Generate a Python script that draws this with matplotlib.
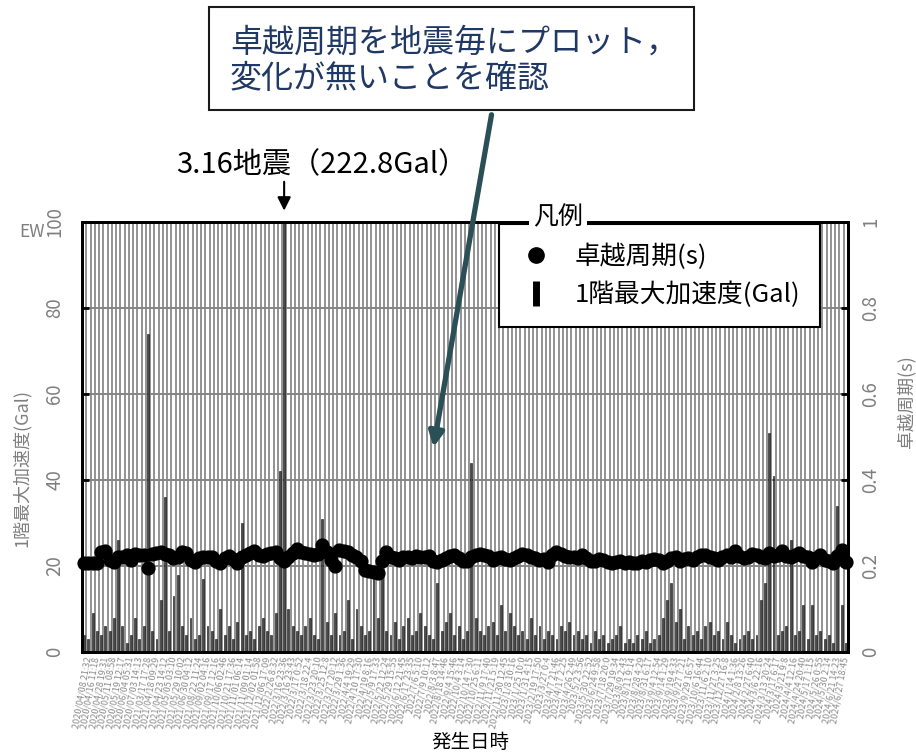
import numpy as np
import matplotlib
matplotlib.use("Agg")
import matplotlib.pyplot as plt
from matplotlib.lines import Line2D
from matplotlib.patches import Rectangle, FancyArrowPatch

plt.rcParams['font.family'] = ['Noto Sans CJK JP', 'DejaVu Sans']

# labelled events (every second category carries a date label)
tick_labels = [
    "2020/04/08 21:32", "2020/04/16 11:18", "2020/04/28 19:31", "2020/05/11 08:58",
    "2020/05/19 12:17", "2020/06/04 05:31", "2020/07/03 14:13", "2021/03/17 17:28",
    "2021/04/18 09:29", "2021/04/23 14:12", "2021/05/05 03:10", "2021/05/29 10:02",
    "2021/06/30 04:12", "2021/08/22 11:24", "2021/09/02 04:16", "2021/09/17 12:16",
    "2021/10/06 02:46", "2021/10/21 17:36", "2021/11/01 06:14", "2021/11/09 01:14",
    "2021/12/02 01:58", "2021/12/06 17:09", "2022/2/26 8:32", "2022/3/16 23:36",
    "2022/3/16 23:43", "2022/3/17 0:52", "2022/3/18 22:4", "2022/3/23 20:10",
    "2022/3/25 12:8", "2022/3/27 20:12", "2022/3/29 1:36", "2022/4/4 19:29",
    "2022/4/10 17:30", "2022/4/19 8:16", "2022/5/9 17:33", "2022/5/22 12:24",
    "2022/5/29 15:55", "2022/6/12 21:45", "2022/6/17 23:35", "2022/7/6 5:10",
    "2022/7/9 10:12", "2022/8/3 8:47", "2022/8/18 14:46", "2022/9/4 15:46",
    "2022/10/4 3:14", "2022/10/14 7:30", "2022/10/25 6:11", "2022/11/9 17:40",
    "2022/11/21 5:19", "2022/11/30 12:45", "2023/1/8 10:16", "2023/1/25 10:0",
    "2023/1/31 4:15", "2023/2/19 17:50", "2023/3/27 0:4", "2023/4/7 21:46",
    "2023/4/17 2:25", "2023/4/26 2:49", "2023/5/2 3:56", "2023/5/30 22:52",
    "2023/6/24 9:58", "2023/7/18 20:0", "2023/7/29 19:34", "2023/8/9 2:43",
    "2023/8/11 9:14", "2023/8/28 4:29", "2023/8/31 6:17", "2023/9/4 12:54",
    "2023/9/14 1:29", "2023/9/19 4:33", "2023/9/27 7:21", "2023/9/29 16:57",
    "2023/10/6 16:44", "2023/11/6 2:10", "2023/11/27 3:25", "2023/12/27 16:8",
    "2024/1/14 1:36", "2024/2/8 13:26", "2024/2/27 6:40", "2024/3/6 22:16",
    "2024/3/13 20:24", "2024/3/17 6:17", "2024/3/21 9:8", "2024/4/4 12:16",
    "2024/4/24 20:40", "2024/5/17 1:15", "2024/5/26 0:55", "2024/5/30 2:14",
    "2024/6/21 14:23", "2024/6/27 18:45",
]
label_step = 2

# 1F peak acceleration, EW (Gal)
pga = [
    4, 3, 9, 5, 4, 6, 5, 8, 26, 6,
    2, 4, 8, 3, 6, 74, 5, 3, 12, 36,
    5, 13, 18, 6, 4, 8, 3, 4, 17, 6,
    5, 3, 10, 4, 6, 3, 7, 30, 4, 5,
    3, 6, 8, 5, 4, 9, 42, 222.8, 10, 6,
    5, 4, 6, 8, 4, 3, 31, 7, 4, 9,
    4, 5, 12, 3, 10, 6, 4, 5, 20, 8,
    19, 5, 4, 7, 3, 6, 8, 4, 5, 9,
    6, 4, 3, 16, 5, 7, 9, 4, 6, 3,
    5, 44, 8, 5, 4, 6, 7, 4, 11, 5,
    9, 6, 4, 5, 3, 8, 4, 6, 3, 5,
    4, 3, 6, 5, 7, 4, 5, 3, 4, 2,
    5, 3, 4, 2, 3, 4, 6, 2, 3, 2,
    4, 3, 5, 2, 3, 4, 8, 12, 16, 7,
    10, 3, 6, 4, 5, 3, 6, 7, 4, 5,
    3, 7, 4, 2, 3, 4, 5, 3, 4, 12,
    16, 51, 41, 4, 5, 6, 26, 4, 5, 11,
    3, 11, 4, 5, 3, 4, 2, 34, 11, 2,
]

# predominant period (s)
period = [
    0.207, 0.207, 0.207, 0.208, 0.232, 0.236, 0.215, 0.210, 0.222, 0.220,
    0.225, 0.214, 0.228, 0.226, 0.225, 0.195, 0.228, 0.230, 0.232, 0.228,
    0.226, 0.218, 0.222, 0.232, 0.230, 0.214, 0.210, 0.218, 0.222, 0.220,
    0.222, 0.212, 0.207, 0.218, 0.224, 0.216, 0.206, 0.220, 0.226, 0.230,
    0.236, 0.226, 0.224, 0.228, 0.230, 0.232, 0.218, 0.212, 0.222, 0.230,
    0.240, 0.232, 0.230, 0.228, 0.226, 0.228, 0.248, 0.232, 0.214, 0.200,
    0.238, 0.235, 0.232, 0.226, 0.222, 0.212, 0.190, 0.188, 0.186, 0.184,
    0.212, 0.232, 0.222, 0.218, 0.214, 0.222, 0.220, 0.218, 0.224, 0.222,
    0.222, 0.224, 0.212, 0.210, 0.214, 0.218, 0.224, 0.226, 0.218, 0.212,
    0.212, 0.220, 0.226, 0.228, 0.226, 0.224, 0.214, 0.218, 0.222, 0.216,
    0.214, 0.218, 0.224, 0.228, 0.226, 0.220, 0.218, 0.214, 0.216, 0.210,
    0.226, 0.232, 0.228, 0.224, 0.222, 0.220, 0.218, 0.226, 0.218, 0.212,
    0.212, 0.216, 0.214, 0.210, 0.206, 0.210, 0.212, 0.208, 0.210, 0.206,
    0.208, 0.212, 0.210, 0.214, 0.216, 0.214, 0.208, 0.212, 0.218, 0.222,
    0.212, 0.216, 0.218, 0.214, 0.222, 0.226, 0.226, 0.222, 0.218, 0.214,
    0.222, 0.226, 0.220, 0.236, 0.224, 0.218, 0.220, 0.228, 0.226, 0.222,
    0.218, 0.230, 0.224, 0.226, 0.236, 0.224, 0.220, 0.226, 0.230, 0.224,
    0.222, 0.210, 0.218, 0.226, 0.214, 0.212, 0.206, 0.224, 0.238, 0.210,
]

main_shock = 47   # 3.16 event index
N = len(pga)
x = np.arange(N)
W, H = 916, 753
gray = '#7f7f7f'

fig = plt.figure(figsize=(W / 100, H / 100), dpi=100)
ax = fig.add_axes([82 / W, 101 / H, 766 / W, 430 / H])

ax.bar(x, pga, width=0.45, color='#4a4a4a', edgecolor='#111111', linewidth=0.4, zorder=2)
ax.set_xlim(-0.5, N - 0.5)
ax.set_ylim(0, 100)
ax.set_yticks(np.arange(0, 101, 20))
ax.set_yticklabels([str(v) for v in range(0, 101, 20)], rotation=90, va='center')
ax.set_xticks(x[::label_step])
ax.set_xticklabels(tick_labels, rotation=80, ha='right', va='top',
                   rotation_mode='anchor', fontsize=6.5, color='#8c8c8c')
ax.set_xticks(np.arange(N + 1) - 0.5, minor=True)
ax.grid(which='minor', axis='x', color='#858585', linewidth=1.25)
ax.grid(which='major', axis='y', color='#858585', linewidth=1.4)
ax.set_axisbelow(True)
ax.tick_params(axis='x', which='both', length=0, pad=3)
ax.tick_params(axis='y', direction='in', length=5, width=2, colors='black',
               labelcolor=gray, labelsize=13.5, pad=12)
for s in ax.spines.values():
    s.set_linewidth(2)

ax2 = ax.twinx()
ax2.scatter(x, period, s=85, color='black', zorder=3, clip_on=False)
ax2.set_ylim(0, 1)
ax2.set_yticks(np.arange(0, 1.01, 0.2))
ax2.set_yticklabels(['0', '0.2', '0.4', '0.6', '0.8', '1'], rotation=90, va='center')
ax2.tick_params(axis='y', direction='in', length=5, width=2, colors='black',
                labelcolor=gray, labelsize=13.5, pad=9)
for s in ax2.spines.values():
    s.set_linewidth(2)

# axis titles
fig.text(22 / W, 1 - 468 / H, '1階最大加速度(Gal)', rotation=90, ha='center', va='center',
         fontsize=13, color=gray)
fig.text(32 / W, 1 - 232 / H, 'EW', ha='center', va='center', fontsize=12.5, color=gray)
fig.text(906 / W, 1 - 402 / H, '卓越周期(s)', rotation=90, ha='center', va='center',
         fontsize=13, color=gray)
fig.text(470 / W, 1 - 743 / H, '発生日時', ha='center', va='center', fontsize=14)

# legend
handles = [Line2D([], [], marker='o', color='black', linestyle='none', markersize=11),
           Line2D([], [], marker='|', color='black', linestyle='none', markersize=18,
                  markeredgewidth=5)]
leg = ax2.legend(handles, ['卓越周期(s)', '1階最大加速度(Gal)'], loc='upper left',
                 bbox_to_anchor=(499 / W, 1 - 224 / H), bbox_transform=fig.transFigure,
                 fontsize=18.5, frameon=True, fancybox=False, framealpha=1,
                 edgecolor='black', borderpad=0.75, handlelength=1.4,
                 handletextpad=0.8, labelspacing=0.45, borderaxespad=0)
leg.get_frame().set_linewidth(1.5)
fig.text(558 / W, 1 - 217 / H, '凡例', ha='center', va='center', fontsize=18,
         bbox=dict(facecolor='white', edgecolor='none', pad=3), zorder=10)

# 3.16 event marker
fig.text(322 / W, 1 - 165 / H, '3.16地震（222.8Gal）', ha='center', va='center', fontsize=21)
ax.annotate('', xy=(main_shock, 102), xytext=(main_shock, 110), annotation_clip=False,
            arrowprops=dict(arrowstyle='-|>', color='black', lw=1.5, mutation_scale=20))

# comment box with arrow
fig.add_artist(Rectangle((209 / W, 1 - 110 / H), 485 / W, 103 / H, transform=fig.transFigure,
                         facecolor='white', edgecolor='#1a1a1a', linewidth=1.5))
fig.text(230 / W, 1 - 61 / H, '卓越周期を地震毎にプロット，\n変化が無いことを確認',
         ha='left', va='center', fontsize=23, color='#1f3864', linespacing=1.15)
fig.add_artist(FancyArrowPatch((492 / W, 1 - 112 / H), (433 / W, 1 - 450 / H),
                               transform=fig.transFigure, arrowstyle='-|>',
                               mutation_scale=22, color='#2b4f57', linewidth=3.8))

fig.savefig('out.png', dpi=100)
